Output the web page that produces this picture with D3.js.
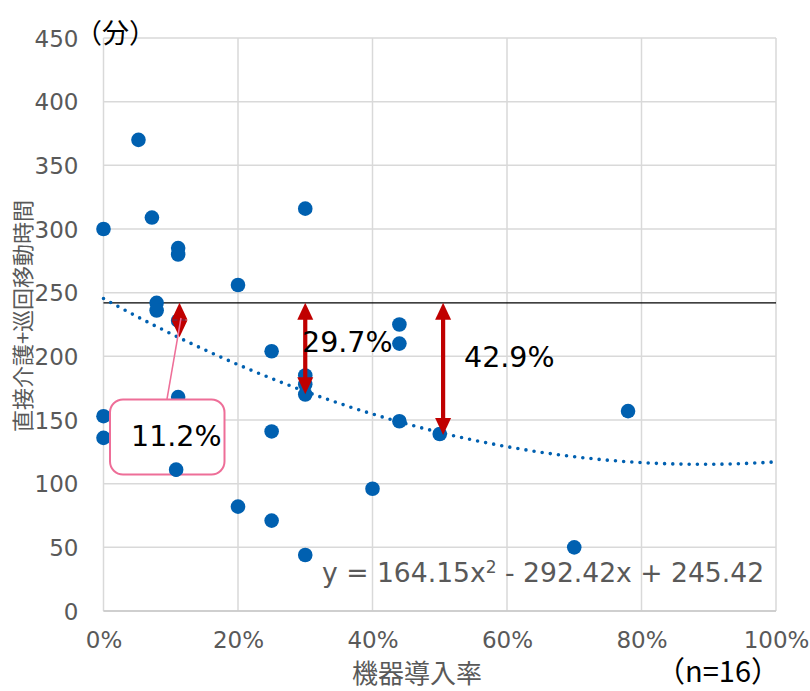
<!DOCTYPE html>
<html>
<head>
<meta charset="utf-8">
<script src="https://cdn.jsdelivr.net/npm/d3@7"></script>
<style>
  html, body { margin: 0; padding: 0; background: #fff; }
  svg { display: block; }
</style>
</head>
<body>
<svg id="chart" width="810" height="691"></svg>
<script>
// Equipment adoption rate (share) and direct care + patrol travel time (minutes)
const adoptionRate = [0, 0, 0, 0.052, 0.072, 0.079, 0.079, 0.111, 0.111, 0.111, 0.111, 0.108,
  0.20, 0.20, 0.25, 0.25, 0.25, 0.30, 0.30, 0.30, 0.30, 0.30, 0.40, 0.44, 0.44, 0.44, 0.50, 0.70, 0.78];
const careMinutes = [300, 153, 136, 370, 309, 242, 236, 285, 280, 228, 168, 111,
  256, 82, 204, 141, 71, 316, 185, 178, 170, 44, 96, 225, 210, 149, 139, 50, 157];

// Quadratic trendline coefficients y = a x^2 + b x + c
const trendCoef = [164.15, -292.42, 245.42];
// Reference level (minutes) at zero adoption
const referenceLevel = 242;

// Reduction arrows: adoption rate and reduction share
const reductionRate = [0.113, 0.30, 0.505];
const reductionShare = [0.112, 0.297, 0.429];
const reductionLabel = ["11.2%", "29.7%", "42.9%"];

const xTicks = [0, 0.2, 0.4, 0.6, 0.8, 1.0];
const yTicks = [0, 50, 100, 150, 200, 250, 300, 350, 400, 450];

const svg = d3.select("#chart");
const latin = "'DejaVu Sans', Verdana, sans-serif";
const cjk = "'Noto Sans CJK JP', 'Noto Sans', sans-serif";
const grey = "#595959";
const blue = "#0060b0";
const red = "#c00000";
const pink = "#ee6e98";

const x = d3.scaleLinear().domain([0, 1]).range([103.5, 776]);
const y = d3.scaleLinear().domain([0, 450]).range([611, 38]);

// Gridlines
svg.append("g").selectAll("line").data(yTicks).join("line")
  .attr("x1", x(0)).attr("x2", x(1))
  .attr("y1", d => y(d)).attr("y2", d => y(d))
  .attr("stroke", "#d9d9d9").attr("stroke-width", 1.5);
svg.append("g").selectAll("line").data(xTicks).join("line")
  .attr("x1", d => x(d)).attr("x2", d => x(d))
  .attr("y1", y(0)).attr("y2", y(450))
  .attr("stroke", "#d9d9d9").attr("stroke-width", 1.5);
svg.append("line").attr("x1", x(0)).attr("x2", x(1)).attr("y1", y(0)).attr("y2", y(0))
  .attr("stroke", "#c8c8c8").attr("stroke-width", 1.5);

// Axes (labels only)
const yAxis = d3.axisLeft(y).tickValues(yTicks).tickSize(0).tickPadding(0);
const gy = svg.append("g").attr("transform", `translate(${x(0) - 25},0)`).call(yAxis);
gy.select(".domain").remove();
gy.selectAll("text").attr("font-family", latin).attr("font-size", 23).attr("fill", grey)
  .attr("dy", "0.36em");

const xAxis = d3.axisBottom(x).tickValues(xTicks).tickSize(0).tickPadding(0)
  .tickFormat(d3.format(".0%"));
const gx = svg.append("g").attr("transform", `translate(0,${y(0) + 20})`).call(xAxis);
gx.select(".domain").remove();
gx.selectAll("text").attr("font-family", latin).attr("font-size", 23).attr("fill", grey)
  .attr("dy", "0.72em");

// Reference line
svg.append("line").attr("x1", x(0)).attr("x2", x(1))
  .attr("y1", y(referenceLevel)).attr("y2", y(referenceLevel))
  .attr("stroke", "#000").attr("stroke-width", 1.3);

// Points
svg.append("g").selectAll("circle").data(adoptionRate).join("circle")
  .attr("cx", d => x(d)).attr("cy", (d, i) => y(careMinutes[i]))
  .attr("r", 7.3).attr("fill", blue);

// Dotted trendline
const trendX = d3.range(0, 1.0001, 0.01);
const trend = v => trendCoef[0] * v * v + trendCoef[1] * v + trendCoef[2];
svg.append("path").datum(trendX)
  .attr("d", d3.line().x(d => x(d)).y(d => y(trend(d))))
  .attr("fill", "none").attr("stroke", blue).attr("stroke-width", 3.6)
  .attr("stroke-linecap", "round").attr("stroke-dasharray", "0 8.2");

// Equation label
const eq = svg.append("text").attr("x", 322).attr("y", 582)
  .attr("font-family", latin).attr("font-size", 26.6).attr("fill", grey);
eq.append("tspan").text("y = 164.15x");
eq.append("tspan").attr("font-size", 17).attr("dy", -9).text("2");
eq.append("tspan").attr("dy", 9).text(" - 292.42x + 245.42");

// Double-headed reduction arrows
const headW = 16, headL = 17, shaftW = 4.2;
reductionRate.forEach((r, i) => {
  const cx = x(r);
  const yTop = y(referenceLevel);
  const yBot = y(referenceLevel * (1 - reductionShare[i]));
  const g = svg.append("g").attr("fill", red);
  g.append("rect").attr("x", cx - shaftW / 2).attr("y", yTop + headL - 1)
    .attr("width", shaftW).attr("height", yBot - yTop - 2 * headL + 2);
  g.append("path").attr("d",
    `M${cx},${yTop} L${cx + headW / 2},${yTop + headL} L${cx - headW / 2},${yTop + headL}Z`);
  g.append("path").attr("d",
    `M${cx},${yBot} L${cx + headW / 2},${yBot - headL} L${cx - headW / 2},${yBot - headL}Z`);
});

// Callout for the first arrow
svg.append("line").attr("x1", 167).attr("y1", 399).attr("x2", 181).attr("y2", 318)
  .attr("stroke", pink).attr("stroke-width", 1.5);
svg.append("rect").attr("x", 110).attr("y", 399.5).attr("width", 114.5).attr("height", 75)
  .attr("rx", 13).attr("fill", "#fff").attr("stroke", pink).attr("stroke-width", 2);
// keep the point inside the callout visible above the box
svg.append("circle").attr("cx", x(adoptionRate[11])).attr("cy", y(careMinutes[11]))
  .attr("r", 7.3).attr("fill", blue);

const labelPos = [[131, 446], [302, 352], [464, 367]];
svg.append("g").selectAll("text").data(reductionLabel).join("text")
  .attr("x", (d, i) => labelPos[i][0]).attr("y", (d, i) => labelPos[i][1])
  .attr("font-family", latin).attr("font-size", 28.5).attr("fill", "#000")
  .text(d => d);

// Titles
svg.append("text").attr("x", 75).attr("y", 43)
  .attr("font-family", cjk).attr("font-size", 27).attr("fill", "#000").text("（分）");
svg.append("text")
  .attr("transform", "translate(31,316) rotate(-90)")
  .attr("text-anchor", "middle")
  .attr("font-family", cjk).attr("font-size", 22).attr("fill", grey)
  .text("直接介護+巡回移動時間");
svg.append("text").attr("x", 417).attr("y", 683).attr("text-anchor", "middle")
  .attr("font-family", cjk).attr("font-size", 26).attr("fill", grey).text("機器導入率");
svg.append("text").attr("x", 656).attr("y", 682)
  .attr("font-family", cjk).attr("font-size", 29).attr("fill", "#000").text("（n=16）");
</script>
</body>
</html>
